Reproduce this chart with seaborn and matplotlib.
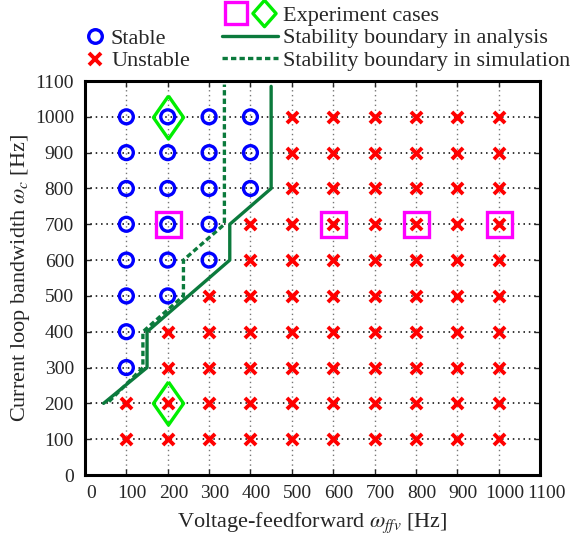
import numpy as np
import pandas as pd
import matplotlib
matplotlib.use("Agg")
import matplotlib.pyplot as plt
import matplotlib.transforms as mtransforms
from matplotlib.lines import Line2D
from matplotlib.legend_handler import HandlerTuple
import seaborn as sns

# ---------------- data ----------------
grid_vals = [100, 200, 300, 400, 500, 600, 700, 800, 900, 1000]
# stable points per voltage-feedforward bandwidth
stable_x = [100]*8 + [200]*6 + [300]*5 + [400]*3
stable_y = [300, 400, 500, 600, 700, 800, 900, 1000,
            500, 600, 700, 800, 900, 1000,
            600, 700, 800, 900, 1000,
            800, 900, 1000]
exp_sq_x = [200, 600, 800, 1000]
exp_sq_y = [700, 700, 700, 700]
exp_di_x = [200, 200]
exp_di_y = [1000, 200]
ana_x = [45, 150, 150, 350, 350, 450, 450]
ana_y = [200, 300, 400, 600, 700, 800, 1085]
sim_x = [58, 140, 140, 238, 238, 337, 337]
sim_y = [205, 300, 400, 500, 600, 700, 1090]
ticks = [0, 100, 200, 300, 400, 500, 600, 700, 800, 900, 1000, 1100]

stable_set = set(zip(stable_x, stable_y))
unst_x, unst_y = [], []
for xv in grid_vals:
    for yv in grid_vals:
        if (xv, yv) not in stable_set:
            unst_x.append(xv)
            unst_y.append(yv)

df_st = pd.DataFrame({"x": stable_x, "y": stable_y})
df_un = pd.DataFrame({"x": unst_x, "y": unst_y})
df_ana = pd.DataFrame({"x": ana_x, "y": ana_y})
df_sim = pd.DataFrame({"x": sim_x, "y": sim_y})

# ---------------- style ----------------
sns.set_style("white")
plt.rcParams["font.family"] = ["Liberation Serif", "DejaVu Serif"]
plt.rcParams["mathtext.fontset"] = "stix"

FS_T = 14
FS_L = 16
GREEN = "#0b7a3c"
DASH = (0, (1.6, 0.95))

fig = plt.figure(figsize=(5.75, 5.4), dpi=100)
ax = fig.add_axes([85/575, 1 - 475/540, (540-85)/575, (475-81)/540])

# grid
for t in ticks:
    ax.axhline(t, color="black", ls=(0, (1, 2.5)), lw=1.1, zorder=0)
    ax.axvline(t, color="#777777", ls=(0, (1, 2.5)), lw=1.0, zorder=0)

sns.lineplot(data=df_ana, x="x", y="y", sort=False, estimator=None, ax=ax,
             color=GREEN, lw=2.4, zorder=3)
sns.lineplot(data=df_sim, x="x", y="y", sort=False, estimator=None, ax=ax,
             color=GREEN, lw=2.4, zorder=3, linestyle=DASH)

sns.scatterplot(data=df_st, x="x", y="y", ax=ax, marker="o", s=100,
                facecolors="none", edgecolor="#0000ff", linewidth=2.4, zorder=4)
sns.scatterplot(data=df_un, x="x", y="y", ax=ax, marker="x", s=64,
                color="#ff0000", linewidth=2.8, zorder=4)

diamond = [(0, 1), (0.7, 0), (0, -1), (-0.7, 0), (0, 1)]
ax.plot(exp_sq_x, exp_sq_y, ls="none", marker="s", ms=18, mfc="none",
        mec="#ff00ff", mew=2.4, zorder=5)
ax.plot(exp_di_x, exp_di_y, ls="none", marker=diamond, ms=31, mfc="none",
        mec="#00ee00", mew=2.4, zorder=5)

ax.set_xlim(0, 1100)
ax.set_ylim(0, 1100)
ax.set_xticks(ticks)
ax.set_yticks(ticks)
ax.tick_params(direction="in", length=4, width=1, labelsize=FS_T,
               top=True, right=True, bottom=True, left=True)
ax.tick_params(axis="x", pad=7)
ax.tick_params(axis="y", pad=8)
for sp in ax.spines.values():
    sp.set_linewidth(2.2)
    sp.set_color("black")
    sp.set_zorder(6)

off = mtransforms.ScaledTranslation(6/100, 0, fig.dpi_scale_trans)
for lab in ax.get_xticklabels():
    lab.set_transform(lab.get_transform() + off)

ax.set_xlabel(r"Voltage-feedforward $\omega_{ffv}$ [Hz]", fontsize=FS_L, labelpad=6.5)
ax.set_ylabel(r"Current loop bandwidth $\omega_c$ [Hz]", fontsize=FS_L)
ax.yaxis.set_label_coords(-0.117, 0.5)

# ---------------- legends ----------------
h_st = Line2D([], [], ls="none", marker="o", ms=9.8, mfc="none", mec="#0000ff", mew=2.4)
h_un = Line2D([], [], ls="none", marker="x", ms=8, color="#ff0000", mew=2.8)
leg1 = fig.legend([h_st, h_un], ["Stable", "Unstable"], loc="upper left",
                  bbox_to_anchor=(87/575, 1 - 28/540), frameon=False, fontsize=FS_L,
                  handlelength=0.72, handletextpad=0.36, labelspacing=0.1,
                  borderpad=0, borderaxespad=0)

diamond_leg = [(0, 1), (0.88, 0), (0, -1), (-0.88, 0), (0, 1)]
h_sq = Line2D([], [], ls="none", marker="s", ms=15.5, mfc="none", mec="#ff00ff", mew=2.4)
h_di = Line2D([], [], ls="none", marker=diamond_leg, ms=19, mfc="none", mec="#00ee00", mew=2.4)
h_an = Line2D([], [], color=GREEN, lw=2.4)
h_si = Line2D([], [], color=GREEN, lw=2.4, ls=DASH)
leg2 = fig.legend([(h_sq, h_di), h_an, h_si],
                  ["Experiment cases", "Stability boundary in analysis",
                   "Stability boundary in simulation"],
                  handler_map={tuple: HandlerTuple(ndivide=2, pad=0)},
                  loc="upper left", bbox_to_anchor=(222/575, 1 - 5/540),
                  frameon=False, fontsize=FS_L, handlelength=2.52,
                  handletextpad=0.22, labelspacing=0.1,
                  borderpad=0, borderaxespad=0)

fig.savefig("out.png", dpi=100)
